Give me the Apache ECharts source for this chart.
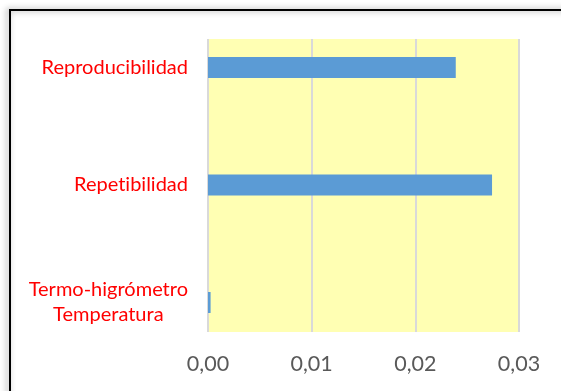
<!DOCTYPE html>
<html>
<head>
<meta charset="utf-8">
<script src="https://cdn.jsdelivr.net/npm/echarts@6/dist/echarts.min.js"></script>
<style>
  html, body { margin: 0; padding: 0; background: #ffffff; }
  #chart { width: 561px; height: 391px; }
</style>
</head>
<body>
<div id="chart"></div>
<script>
// Categories, top to bottom
const categories = ['Reproducibilidad', 'Repetibilidad', 'Termo-higrómetro\nTemperatura'];
// Contribution values
const values = [0.0239, 0.0274, 0.00025];
// Value axis ticks
const tickValues = [0, 0.01, 0.02, 0.03];

const FONT = 'Lato';
const chart = echarts.init(document.getElementById('chart'), null, { renderer: 'canvas' });

const gridLeft = 208, gridRight = 42;

// keep "t" and "i" as separate glyphs
const noLig = s => s.replace(/ti/g, 't\u200Ci');

chart.setOption({
  animation: false,
  backgroundColor: '#ffffff',
  graphic: [{
    type: 'rect',
    shape: { x: 10, y: 10, width: 600, height: 420 },
    style: {
      fill: 'none', stroke: '#000000', lineWidth: 2,
      shadowBlur: 6, shadowColor: 'rgba(0,0,0,0.45)', shadowOffsetX: -2, shadowOffsetY: 0
    },
    z: 0
  }],
  grid: [
    // plot area (yellow, with vertical gridlines)
    { left: gridLeft, right: gridRight, top: 39, bottom: 59, show: true,
      backgroundColor: '#FFFFB3', borderWidth: 0 },
    // category bands for the bars
    { left: gridLeft, right: gridRight, top: 8.75, height: 352.5, show: false }
  ],
  xAxis: [
    {
      gridIndex: 0, type: 'value',
      min: tickValues[0], max: tickValues[tickValues.length - 1], interval: 0.01,
      axisLine: { show: false }, axisTick: { show: false },
      splitLine: { show: true, lineStyle: { color: '#D9D9D9', width: 2 } },
      axisLabel: {
        color: '#595959', fontSize: 21.5, fontFamily: FONT, margin: 21,
        formatter: v => v.toFixed(2).replace('.', ',')
      }
    },
    {
      gridIndex: 1, type: 'value',
      min: tickValues[0], max: tickValues[tickValues.length - 1],
      show: false
    }
  ],
  yAxis: [
    { gridIndex: 0, type: 'value', show: false, min: 0, max: 1 },
    {
      gridIndex: 1, type: 'category', inverse: true, data: categories,
      axisLine: { show: false }, axisTick: { show: false }, splitLine: { show: false },
      axisLabel: {
        margin: 20,
        formatter: v => v.split('\n').map(s => '{c|' + noLig(s) + '}').join('\n'),
        rich: {
          c: { color: '#FF0000', fontSize: 20, fontFamily: FONT, align: 'center', lineHeight: 25 }
        }
      }
    }
  ],
  series: [{
    type: 'bar',
    xAxisIndex: 1, yAxisIndex: 1,
    data: values,
    barWidth: 21,
    itemStyle: { color: '#5B9BD5' },
    z: 3
  }]
});
</script>
</body>
</html>
